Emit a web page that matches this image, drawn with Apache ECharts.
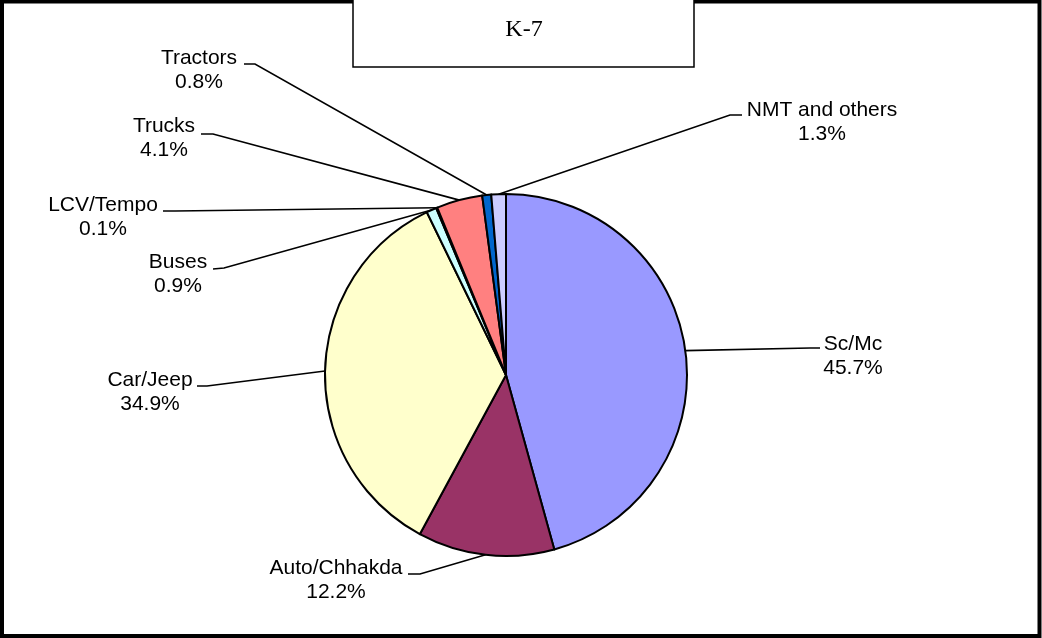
<!DOCTYPE html>
<html lang="en">
<head>
<meta charset="UTF-8">
<title>K-7</title>
<style>
  html, body { margin: 0; padding: 0; background: #fff; }
  #chart { width: 1042px; height: 638px; }
</style>
</head>
<body>
<div id="chart"></div>
<script src="https://cdn.jsdelivr.net/npm/echarts@6/dist/echarts.min.js"></script>
<script>
// vehicle mix, share in percent (clockwise from 12 o'clock)
var categories = ['Sc/Mc', 'Auto/Chhakda', 'Car/Jeep', 'Buses', 'LCV/Tempo', 'Trucks', 'Tractors', 'NMT and others'];
var shares = [45.7, 12.2, 34.9, 0.9, 0.1, 4.1, 0.8, 1.3];
var colors = ['#9999FF', '#993366', '#FFFFCC', '#CCFFFF', '#660066', '#FF8080', '#0066CC', '#CCCCFF'];

// where each label sits (text block centre) and where its leader line bends / ends
var labelSpots = [[853, 356], [336, 580], [150, 392], [178, 274], [103, 217], [164, 138], [199, 70], [822, 122]];
var lineBends  = [[810, 348], [420, 574], [207, 386], [224, 268], [175, 211], [213, 134], [255, 64], [730, 115]];
var lineEnds   = [[820, 348], [408, 574], [197, 386], [213, 269], [163, 211], [201, 134], [244, 64], [742, 115]];

var chart = echarts.init(document.getElementById('chart'));

var pieData = [];
for (var i = 0; i < categories.length; i++) {
  pieData.push({ name: categories[i], value: shares[i], itemStyle: { color: colors[i] } });
}

var option = {
  animation: false,
  graphic: [
    {
      // outer frame
      type: 'rect',
      shape: { x: 2, y: 1.5, width: 1037.5, height: 634.5 },
      style: { fill: 'none', stroke: '#000', lineWidth: 4 }
    },
    {
      // title box
      type: 'rect',
      shape: { x: 353, y: -2, width: 341, height: 69 },
      style: { fill: '#fff', stroke: '#000', lineWidth: 1.5 }
    },
    {
      type: 'text',
      x: 524,
      y: 30,
      style: {
        text: 'K-7',
        font: '24px "Liberation Serif", "Times New Roman", serif',
        fill: '#000',
        align: 'center',
        verticalAlign: 'middle'
      }
    }
  ],
  series: [
    {
      type: 'pie',
      center: [506, 375],
      radius: 181,
      startAngle: 90,
      clockwise: true,
      avoidLabelOverlap: false,
      itemStyle: { borderColor: '#000', borderWidth: 2 },
      label: {
        show: true,
        position: 'outside',
        color: '#000',
        fontFamily: '"Liberation Sans", Arial, sans-serif',
        fontSize: 21,
        lineHeight: 24.5,
        align: 'center',
        formatter: function (p) {
          return p.name + '\n' + p.value.toFixed(1) + '%';
        }
      },
      labelLine: {
        show: true,
        smooth: false,
        lineStyle: { color: '#000', width: 1.6 }
      },
      labelLayout: function (params) {
        var k = params.dataIndex;
        var pts = params.labelLinePoints;
        return {
          x: labelSpots[k][0],
          y: labelSpots[k][1],
          align: 'center',
          verticalAlign: 'middle',
          labelLinePoints: [pts[0], lineBends[k], lineEnds[k]]
        };
      },
      emphasis: { disabled: true },
      data: pieData
    }
  ]
};
chart.setOption(option);
</script>
</body>
</html>
